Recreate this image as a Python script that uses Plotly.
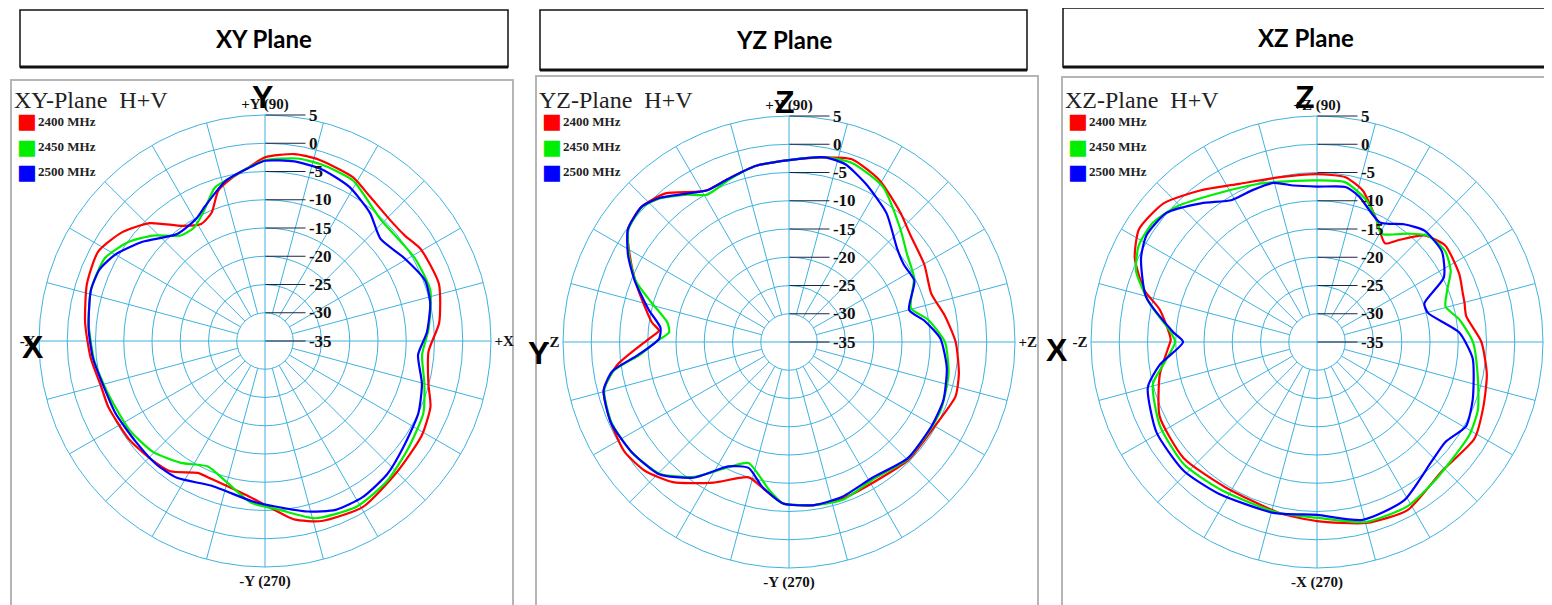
import plotly.graph_objects as go

# The page body has an 8px default margin: the figure is sized/positioned to compensate.
OFF = 8
W, H = 1552 - OFF, 605 - OFF

# ---------------- data (dB vs angle in degrees) ----------------
# XY plane
xy_2400_theta = [6, 18.2, 30.6, 37, 44, 54, 61.7, 73.6, 81, 90, 96, 101.3, 107.2, 112.6, 118.6, 125.7, 134.4, 142.8, 151.8, 162.2, 174.2, 185.6, 195.7, 202.7, 215.7, 225.4, 234, 243, 248.9, 264.3, 270, 279.3, 287.5, 300.6, 315.5, 328.9, 338.4, 345.3, 356.3]
xy_2400_r = [-4.0, -2.6, -3.0, -4.0, -4.2, -3.4, -2.1, -1.5, -1.5, -2.5, -4.3, -5.5, -7.1, -10.4, -11.4, -9.9, -5.8, -3.2, -1.5, -1.9, -3.0, -4.0, -4.9, -4.9, -5.3, -5.9, -6.5, -8.8, -8.8, -7.3, -6.0, -3.0, -1.6, -0.9, -2.1, -2.6, -3.5, -5.1, -6.0]

xy_2450_theta = [4, 17, 29, 46.5, 61.3, 72, 80, 90, 96, 101.3, 108, 115.8, 121.8, 128.6, 136.7, 143.9, 152.6, 163.8, 175, 186.8, 198.5, 213, 224.7, 235.4, 245.5, 254, 265, 275, 285.8, 298.9, 311, 323, 335.5, 345, 355]
xy_2450_r = [-6.0, -4.4, -4.7, -5.3, -2.6, -2.2, -2.2, -3.0, -4.3, -5.4, -6.4, -9.8, -11.3, -11.1, -7.8, -5.2, -3.1, -2.9, -3.7, -4.6, -5.7, -6.3, -7.1, -8.8, -10.6, -9.3, -6.3, -5.0, -2.4, -1.5, -2.1, -3.3, -4.2, -5.8, -7.1]

xy_2500_theta = [3.1, 12.9, 20.6, 30.7, 41.6, 50.6, 61.3, 71.6, 80.7, 90, 95.7, 103.8, 114, 119.5, 129.4, 141, 150, 156.6, 163.8, 176, 185.7, 193.7, 205.7, 218, 228.7, 237.2, 249.8, 265.7, 274, 284, 292.7, 302, 312.5, 323.2, 334.8, 344.7, 354.8]
xy_2500_r = [-6.3, -5.0, -4.7, -6.3, -7.7, -5.7, -3.9, -3.0, -2.8, -3.1, -4.3, -5.8, -8.9, -10.2, -10.5, -7.1, -4.4, -3.1, -2.9, -3.7, -4.4, -5.2, -5.6, -6.0, -5.9, -6.2, -7.7, -6.5, -5.6, -3.9, -2.6, -2.4, -3.0, -4.2, -5.0, -6.2, -7.8]

# YZ plane
yz_2400_theta = [0, 9.4, 18.8, 29.8, 41.2, 49.2, 60.7, 71, 79, 90, 100.8, 110.5, 118.3, 122.5, 129.7, 137.4, 145, 153.8, 161, 171.9, 175, 178.7, 187.5, 194.6, 204.3, 213.7, 221.9, 230.4, 241.9, 253.4, 261, 267.9, 278.8, 288.8, 302, 315.5, 330, 341.8, 349.3]
yz_2400_r = [-5.5, -7.0, -8.4, -7.4, -6.4, -4.8, -2.2, -0.8, -1.7, -2.8, -3.3, -4.2, -4.5, -3.5, -0.8, 0.4, -0.2, -3.9, -6.8, -10.5, -11.9, -10.2, -4.4, -1.1, -0.4, 0.0, -0.8, -2.8, -6.8, -10.0, -8.4, -6.4, -5.8, -5.7, -6.0, -5.3, -5.2, -4.0, -4.4]

yz_2450_theta = [0, 9.2, 15.5, 27.3, 36.4, 45.5, 58.8, 70.6, 79, 90, 100.8, 110.5, 119, 124.6, 132, 137.4, 145, 151.6, 158.3, 164.2, 170.9, 175.4, 180, 184.9, 189.4, 194.6, 204.3, 214.8, 225.5, 234.8, 244, 251.5, 262.5, 267.9, 278.8, 288.8, 301.7, 315.5, 329.6, 337, 348.6]
yz_2450_r = [-7.4, -10.1, -12.6, -10.1, -9.0, -6.9, -2.9, -1.4, -1.7, -2.8, -3.3, -4.4, -5.2, -3.3, -0.8, 0.3, -0.3, -2.8, -5.8, -9.8, -13.2, -13.7, -11.4, -8.5, -3.5, -1.2, -0.5, -1.0, -2.3, -5.8, -10.3, -12.4, -8.5, -6.4, -5.8, -5.5, -6.5, -5.5, -5.6, -5.6, -6.2]

yz_2500_theta = [1.3, 8.8, 15, 26, 34, 40.9, 52.9, 64, 72.4, 79, 90, 100.8, 110.5, 118.3, 124.6, 132, 137.4, 145, 151.6, 158.3, 167, 173.6, 178.6, 184.9, 189.4, 194.6, 204.3, 214.8, 225.5, 234.8, 244, 252.2, 259.6, 267.9, 278.8, 288.8, 301.7, 315.5, 329.6, 339.4, 350.7]
yz_2500_r = [-8.2, -10.7, -13.0, -10.3, -10.5, -9.7, -6.4, -3.9, -2.0, -1.7, -2.8, -3.3, -4.2, -4.5, -3.1, -0.7, 0.4, -0.2, -2.6, -5.6, -9.5, -12.1, -12.0, -8.2, -3.3, -1.1, -0.4, -1.0, -2.2, -5.6, -10.5, -11.6, -8.9, -6.4, -5.8, -6.0, -6.8, -5.6, -5.7, -5.8, -6.7]

# XZ plane
xz_2400_theta = [0, 9.8, 14.7, 18.4, 25.5, 37, 44.7, 51.7, 55.4, 64.2, 73.2, 80.2, 90, 102.6, 116.2, 127.4, 137.9, 147.6, 155.3, 163.3, 168.4, 179, 182.5, 191.6, 205.3, 221.1, 237.7, 257.8, 270, 285.3, 298.3, 314.1, 328.4, 338.7, 349.2]
xz_2400_r = [-5.9, -8.2, -8.0, -7.8, -7.1, -6.6, -8.2, -12.1, -13.8, -10.9, -7.0, -5.4, -5.3, -5.1, -3.8, -1.2, 1.6, 2.3, 0.5, -3.1, -6.6, -9.1, -8.6, -6.6, -4.2, -3.7, -4.6, -4.0, -3.3, -1.8, -1.2, -3.2, -2.3, -3.4, -4.4]

xz_2450_theta = [0, 9, 15.4, 21.7, 28, 35.2, 43.8, 50.1, 59.2, 64.2, 70.9, 79.9, 90, 98.2, 110, 123.6, 136, 143.9, 151.4, 158.6, 167, 176, 180, 187.3, 194.4, 208, 222.7, 237.3, 257, 270, 285, 298.8, 310.4, 328.4, 337.2, 348.6]
xz_2450_r = [-7.4, -9.5, -11.4, -10.2, -8.2, -7.2, -7.8, -10.0, -12.7, -10.9, -8.4, -6.3, -6.4, -6.2, -5.2, -3.4, -0.5, 0.9, 0.9, -0.6, -4.6, -9.0, -9.9, -7.9, -5.0, -3.5, -3.0, -3.8, -4.0, -3.9, -2.0, -1.8, -2.8, -3.4, -4.1, -6.0]

xz_2500_theta = [3.9, 14.7, 19.8, 27, 35.9, 46, 53.6, 62.2, 73.8, 79.6, 90, 98.4, 105.3, 113, 120.9, 129.9, 139.4, 148, 154.5, 165.2, 176.1, 180, 188.2, 195, 209.4, 224.1, 236.9, 255.7, 270, 284.4, 298.8, 313.8, 322, 330.6, 339.6, 354]
xz_2500_r = [-9.8, -14.7, -14.8, -9.8, -7.7, -7.6, -9.1, -11.1, -8.2, -7.1, -7.5, -7.0, -5.8, -5.8, -5.7, -3.0, 0.1, 0.6, -0.5, -3.7, -9.5, -11.3, -6.9, -4.0, -2.4, -2.2, -3.0, -3.8, -4.4, -2.5, -3.0, -5.7, -6.2, -4.7, -5.6, -7.3]

frequencies = ["2400 MHz", "2450 MHz", "2500 MHz"]
colors = ["#ff0000", "#00ee00", "#0000ff"]
radial_ticks = [-35, -30, -25, -20, -15, -10, -5, 0, 5]

panels = [
    dict(title="XY Plane", plane="XY-Plane", curves=[(xy_2400_theta, xy_2400_r), (xy_2450_theta, xy_2450_r), (xy_2500_theta, xy_2500_r)],
         ang_text=["+X", "+Y (90)", "-X", "-Y (270)"], big=[("Y", 262, 97), ("X", 33, 347)],
         center=(265, 341), frame=(11, 80, 513, 615), tbox=(20, 10, 508, 67)),
    dict(title="YZ Plane", plane="YZ-Plane", curves=[(yz_2400_theta, yz_2400_r), (yz_2450_theta, yz_2450_r), (yz_2500_theta, yz_2500_r)],
         ang_text=["+Z", "+Y (90)", "-Z", "-Y (270)"], big=[("Z", 785, 102), ("Y", 538, 353)],
         center=(789, 342), frame=(536, 76, 1038, 615), tbox=(540, 10, 1027, 70)),
    dict(title="XZ Plane", plane="XZ-Plane", curves=[(xz_2400_theta, xz_2400_r), (xz_2450_theta, xz_2450_r), (xz_2500_theta, xz_2500_r)],
         ang_text=["+Z", "+Z (90)", "-Z", "-X (270)"], big=[("Z", 1305, 97), ("X", 1057, 350)],
         center=(1317, 342), frame=(1062, 77, 1560, 615), tbox=(1063, 8, 1549, 67)),
]

GRID = "#3fb2e0"
R_PX = 226


def px(x):
    return (x - OFF) / W


def py(y):
    return 1 - (y - OFF) / H


fig = go.Figure()
layout_polars = {}
annotations = []
shapes = []

# spoke grid (every 15 deg, starting at the -30 ring; main axes through centre).
# Exact diagonals are nudged by a hair to avoid a renderer glitch on perfectly 45-degree hairlines.
spoke_t, spoke_r = [], []
for a in range(0, 360, 15):
    start = -35 if a % 90 == 0 else -30
    ang = a + 0.15 if a % 90 == 45 else a
    spoke_t += [ang, ang, None]
    spoke_r += [start, 5, None]

for i, p in enumerate(panels):
    sub = "polar" if i == 0 else f"polar{i+1}"
    cx, cy = p["center"]
    layout_polars[sub] = dict(
        domain=dict(x=[px(cx - R_PX), px(cx + R_PX)], y=[py(cy + R_PX), py(cy - R_PX)]),
        bgcolor="white",
        radialaxis=dict(range=[-35, 5], angle=90, side="clockwise", tickvals=radial_ticks,
                        ticktext=[str(v) for v in radial_ticks], showline=False, showgrid=True,
                        gridcolor=GRID, gridwidth=1, ticks="outside", ticklen=40, tickwidth=1,
                        tickcolor="#1c2541", tickangle=90,
                        tickfont=dict(family="Liberation Serif", size=17, color="#111", weight="bold")),
        angularaxis=dict(rotation=0, direction="counterclockwise", tickvals=[0, 90, 180, 270],
                         ticktext=p["ang_text"], showgrid=False, showline=True, linecolor=GRID,
                         linewidth=1, ticks="",
                         tickfont=dict(family="Liberation Serif", size=15, color="#111", weight="bold")),
    )
    fig.add_trace(go.Scatterpolar(theta=spoke_t, r=spoke_r, mode="lines", subplot=sub,
                                  line=dict(color=GRID, width=1), hoverinfo="skip", showlegend=False))
    for (th, rr), name, col in zip(p["curves"], frequencies, colors):
        fig.add_trace(go.Scatterpolar(theta=list(th) + [th[0]], r=list(rr) + [rr[0]], mode="lines",
                                      subplot=sub, name=name,
                                      line=dict(color=col, width=2.2, shape="spline", smoothing=0.6),
                                      showlegend=False))
    # frames and title boxes
    fx0, fy0, fx1, fy1 = p["frame"]
    shapes.append(dict(type="rect", xref="paper", yref="paper", x0=px(fx0), x1=px(fx1), y0=py(fy1), y1=py(fy0),
                       line=dict(color="#b5b5b5", width=2), layer="below"))
    tx0, ty0, tx1, ty1 = p["tbox"]
    shapes.append(dict(type="rect", xref="paper", yref="paper", x0=px(tx0), x1=px(tx1), y0=py(ty1), y1=py(ty0),
                       line=dict(color="#111", width=1.5)))
    shapes.append(dict(type="line", xref="paper", yref="paper", x0=px(tx0), x1=px(tx1), y0=py(ty1), y1=py(ty1),
                       line=dict(color="#111", width=3)))
    annotations.append(dict(text=p["title"], x=px((tx0 + tx1) / 2), y=py((ty0 + ty1) / 2), xref="paper", yref="paper",
                            showarrow=False, xanchor="center", yanchor="middle",
                            font=dict(family="Lato", size=24, color="#000", weight="bold")))
    # plane label & legend
    annotations.append(dict(text=p["plane"] + "\u00a0\u00a0H+V", x=px(fx0 + 1), y=py(100), xref="paper", yref="paper",
                            showarrow=False, xanchor="left", yanchor="middle",
                            font=dict(family="Liberation Serif", size=24, color="#222")))
    for k, (name, col) in enumerate(zip(frequencies, colors)):
        yy = 121 + k * 25.5
        annotations.append(dict(text="■", x=px(fx0 + 4), y=py(yy), xref="paper", yref="paper", showarrow=False,
                                xanchor="left", yanchor="middle", font=dict(family="DejaVu Sans", size=21, color=col)))
        annotations.append(dict(text=name, x=px(fx0 + 25), y=py(yy), xref="paper", yref="paper", showarrow=False,
                                xanchor="left", yanchor="middle",
                                font=dict(family="Liberation Serif", size=13, color="#222", weight="bold")))
    for letter, lx, ly in p["big"]:
        annotations.append(dict(text=letter, x=px(lx), y=py(ly), xref="paper", yref="paper", showarrow=False,
                                xanchor="center", yanchor="middle",
                                font=dict(family="Liberation Sans", size=32, color="#000", weight="bold")))

fig.update_layout(width=W, height=H, margin=dict(l=0, r=0, t=0, b=0), paper_bgcolor="white",
                  plot_bgcolor="white", showlegend=False, shapes=shapes, annotations=annotations,
                  **layout_polars)

fig.write_html("out.html")
